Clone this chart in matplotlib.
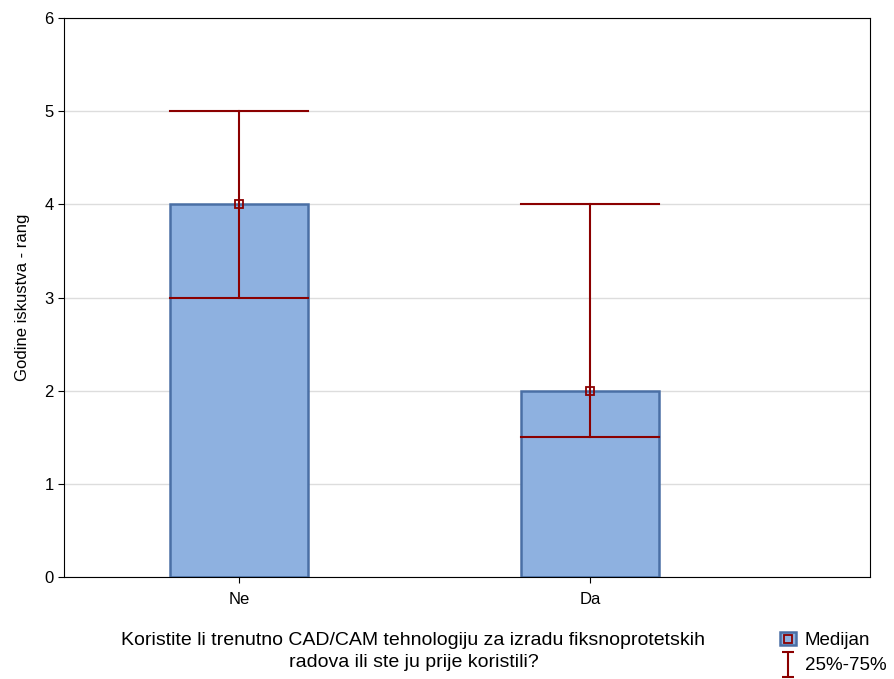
import matplotlib.pyplot as plt
from matplotlib.patches import Rectangle
from matplotlib.lines import Line2D
from matplotlib.path import Path

plt.rcParams['font.family'] = ['Liberation Sans', 'DejaVu Sans']

categories = ["Ne", "Da"]
medians = [4, 2]
q25 = [3, 1.5]
q75 = [5, 4]

fill_c = '#8EB1E0'
edge_c = '#4A6FA5'
red_c = '#8B0000'

fig = plt.figure(figsize=(8.95, 6.79), dpi=100)
ax = fig.add_axes([0.0715, 0.150, 0.9005, 0.8235])

pos = [1, 2]
w = 0.393
ax.bar(pos, medians, width=w, color=fill_c, edgecolor=edge_c, linewidth=1.8, zorder=2)
for p, lo, hi, m in zip(pos, q25, q75, medians):
    ax.plot([p, p], [lo, hi], color=red_c, lw=1.5, zorder=3)
    ax.plot([p - w / 2, p + w / 2], [lo, lo], color=red_c, lw=1.5, zorder=3)
    ax.plot([p - w / 2, p + w / 2], [hi, hi], color=red_c, lw=1.5, zorder=3)
    ax.plot([p], [m], marker='s', ms=6, mfc='none', mec=red_c, mew=1.3, zorder=4)

ax.set_xlim(0.502, 2.796)
ax.set_ylim(0, 6)
ax.set_xticks(pos)
ax.set_xticklabels(categories)
ax.set_yticks(range(7))
ax.yaxis.grid(True, color='#DDDDDD', lw=1, zorder=0)
ax.set_axisbelow(True)
ax.tick_params(labelsize=12, direction='out', length=4)
ax.tick_params(axis='x', pad=7)
for s in ax.spines.values():
    s.set_color('black')
ax.set_ylabel("Godine iskustva - rang", fontsize=12, labelpad=10)

fig.text(0.462, 0.0405, "Koristite li trenutno CAD/CAM tehnologiju za izradu fiksnoprotetskih\nradova ili ste ju prije koristili?",
         ha='center', va='center', fontsize=14, linespacing=1.45)

ibeam = Path([(-0.5, -1), (0.5, -1), (0, -1), (0, 1), (-0.5, 1), (0.5, 1)],
             [Path.MOVETO, Path.LINETO, Path.MOVETO, Path.LINETO, Path.MOVETO, Path.LINETO])
h1 = (Rectangle((0, 0), 1, 1, fc=fill_c, ec=edge_c, lw=1.8),
      Line2D([], [], ls='none', marker='s', ms=6, mfc='none', mec=red_c, mew=1.3))
h2 = Line2D([], [], ls='none', marker=ibeam, ms=18, mew=1.5, color=red_c)
fig.legend([h1, h2], ["Medijan", "25%-75%"], loc='center left', bbox_to_anchor=(0.871, 0.038),
           frameon=False, fontsize=13.5, handlelength=0.9, handletextpad=0.45, labelspacing=0.4,
           borderpad=0, borderaxespad=0)

fig.savefig("out.png", dpi=100)
